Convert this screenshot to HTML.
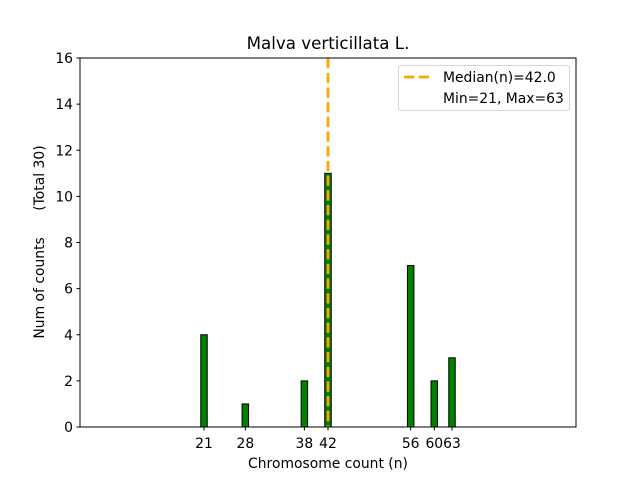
<!DOCTYPE html>
<html><head><meta charset="utf-8"><style>
body{margin:0;background:#fff;}
svg{display:block;font-family:"DejaVu Sans","Liberation Sans",sans-serif;}
</style></head><body>
<svg id="chart" width="640" height="480">
<rect width="640" height="480" fill="#fff"/>
<text x="328" y="49" text-anchor="middle" font-size="16.7">Malva verticillata L.</text>
<g id="bars"></g>
<g id="yticks"></g>
<g id="xticks"></g>
<line id="median" stroke="orange" stroke-width="2.78" stroke-dasharray="10.3,4.4"/>
<rect x="80" y="58" width="496" height="369" fill="none" stroke="#000" stroke-width="1"/>
<text x="328" y="468" text-anchor="middle" font-size="13.9">Chromosome count (n)</text>
<text transform="translate(44,242) rotate(-90)" text-anchor="middle" font-size="13.9" xml:space="preserve">Num of counts      (Total 30)</text>
<g>
<rect x="398.5" y="65.5" width="171" height="45" rx="2" fill="#fff" stroke="#ccc" stroke-opacity="0.8"/>
<line x1="404" y1="77" x2="432" y2="77" stroke="orange" stroke-width="2.78" stroke-dasharray="10.3,4.4"/>
<text x="443" y="82" font-size="13.9">Median(n)=42.0</text>
<text x="443" y="103" font-size="13.9">Min=21, Max=63</text>
</g>
</svg>
<script>
const categories=[21,28,38,42,56,60,63];
const counts=[4,1,2,11,7,2,3];
const xTickLabels=[21,28,38,42,56,60,63];
const xTickText=["21","28","38","42","56","60","63"];
const yTickLabels=[0,2,4,6,8,10,12,14,16];
const medianValue=[42.0];
const L=80,R=576,T=58,B=427,XMAX=84,YMAX=16;
const sx=v=>L+v*(R-L)/XMAX;
const sy=v=>B-v*(B-T)/YMAX;
const NS="http://www.w3.org/2000/svg";
function mk(tag,attrs,parent){const e=document.createElementNS(NS,tag);for(const k in attrs)e.setAttribute(k,attrs[k]);parent.appendChild(e);return e;}
const bars=document.getElementById('bars');
categories.forEach((c,i)=>{
  const x0=sx(c-0.55),x1=sx(c+0.55);
  const r=mk('rect',{x:x0,y:sy(counts[i]),width:x1-x0,height:sy(0)-sy(counts[i]),fill:'green',stroke:'#000','stroke-width':1},bars);
  
  
});
const yt=document.getElementById('yticks');
yTickLabels.forEach(v=>{
  const y=sy(v);
  mk('line',{x1:L-3.5,x2:L,y1:y,y2:y,stroke:'#000'},yt);
  const t=mk('text',{x:L-7,y:y+5,'text-anchor':'end','font-size':13.9},yt);
  t.textContent=v;
  
  
});
const xt=document.getElementById('xticks');
xTickLabels.forEach((v,i)=>{
  const x=sx(v);
  mk('line',{x1:x,x2:x,y1:B,y2:B+3.5,stroke:'#000'},xt);
  const t=mk('text',{x:x,y:B+21,'text-anchor':'middle','font-size':13.9},xt);
  t.textContent=xTickText[i];
  
  
});
const m=document.getElementById('median');
m.setAttribute('x1',sx(medianValue[0]));m.setAttribute('x2',sx(medianValue[0]));
m.setAttribute('y1',T);m.setAttribute('y2',B);
</script>
</body></html>
